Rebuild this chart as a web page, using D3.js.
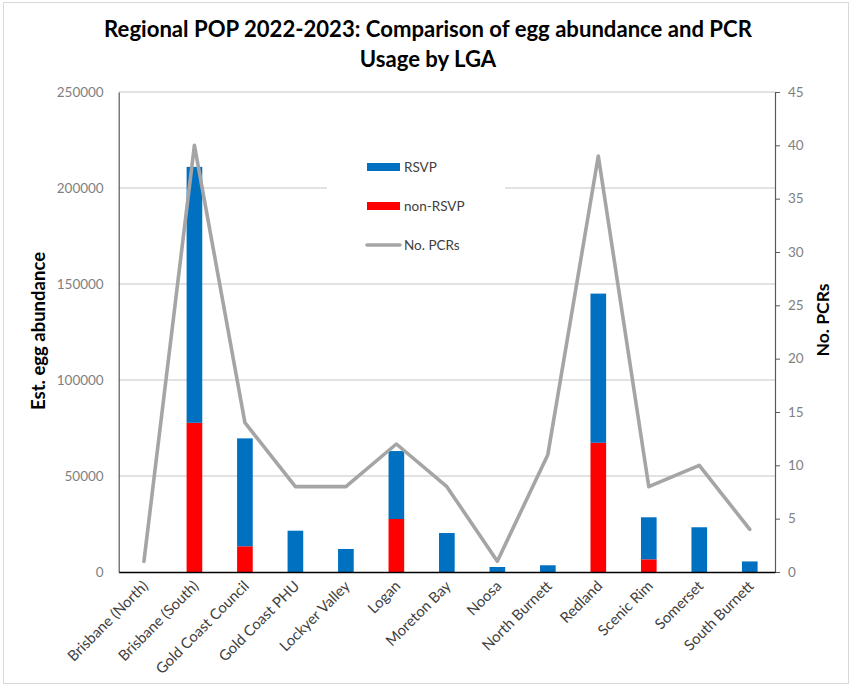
<!DOCTYPE html>
<html><head><meta charset="utf-8">
<script src="https://cdn.jsdelivr.net/npm/d3@7"></script>
<style>body{margin:0;background:#fff}svg{display:block}</style>
</head><body>
<script>
const categories = ["Brisbane (North)","Brisbane (South)","Gold Coast Council","Gold Coast PHU","Lockyer Valley","Logan","Moreton Bay","Noosa","North Burnett","Redland","Scenic Rim","Somerset","South Burnett"];
const nonRSVP = [0,77700,13400,0,0,27600,0,0,0,67300,6600,0,0];
const RSVP    = [0,133300,56200,21500,12000,35400,20300,2600,3500,77700,21900,23300,5500];
const pcrs    = [1,40,14,8,8,12,8,1,11,39,8,10,4];
const leftTicks = [0,50000,100000,150000,200000,250000];
const rightTicks = [0,5,10,15,20,25,30,35,40,45];

const W=852,H=686;
const font="Lato, 'Open Sans', sans-serif";
const svg=d3.select("body").append("svg").attr("width",W).attr("height",H);
svg.append("rect").attr("x",3.5).attr("y",2.5).attr("width",845).attr("height",681).attr("fill","#fff").attr("stroke","#d9d9d9");

const L=118.7,R=775,T=92,B=572;
const x=d3.scaleBand().domain(categories).range([L,R]);
const y=d3.scaleLinear().domain([0,250000]).range([B,T]);
const y2=d3.scaleLinear().domain([0,45]).range([B,T]);

// gridlines
svg.append("g").selectAll("line").data(leftTicks.slice(1)).join("line")
  .attr("x1",L).attr("x2",R).attr("y1",d=>y(d)).attr("y2",d=>y(d))
  .attr("stroke","#d9d9d9").attr("stroke-width",1.3);

// legend background (covers gridline)
svg.append("rect").attr("x",327).attr("y",150).attr("width",178).attr("height",110).attr("fill","#fff");

// stacked bars
const stackData=categories.map((c,i)=>({cat:c,nonRSVP:nonRSVP[i],RSVP:RSVP[i]}));
const series=d3.stack().keys(["nonRSVP","RSVP"])(stackData);
const colors={nonRSVP:"#ff0000",RSVP:"#0070c0"};
const bw=x.bandwidth()*0.31;
svg.append("g").selectAll("g").data(series).join("g").attr("fill",s=>colors[s.key])
  .selectAll("rect").data(s=>s).join("rect")
  .attr("x",d=>x(d.data.cat)+x.bandwidth()/2-bw/2).attr("width",bw)
  .attr("y",d=>y(d[1])).attr("height",d=>y(d[0])-y(d[1]));

// line
const line=d3.line().x((d,i)=>x(categories[i])+x.bandwidth()/2).y(d=>y2(d));
svg.append("path").datum(pcrs).attr("d",line).attr("fill","none")
  .attr("stroke","#a5a5a5").attr("stroke-width",3.6).attr("stroke-linejoin","round").attr("stroke-linecap","round");

// axes
const gl=svg.append("g").attr("transform",`translate(${L},0)`)
  .call(d3.axisLeft(y).tickValues(leftTicks).tickSize(0).tickPadding(15).tickFormat(d3.format("d")));
gl.select(".domain").attr("stroke","#595959").attr("stroke-width",1.2);
gl.selectAll("text").attr("font-family",font).attr("font-size",13.5).attr("fill","#7f7f7f");

const gr=svg.append("g").attr("transform",`translate(${R},0)`)
  .call(d3.axisRight(y2).tickValues(rightTicks).tickSizeInner(5).tickSizeOuter(0).tickPadding(8));
gr.select(".domain").attr("stroke","#595959").attr("stroke-width",1.2);
gr.selectAll(".tick line").attr("stroke","#595959");
gr.selectAll("text").attr("font-family",font).attr("font-size",13.5).attr("fill","#7f7f7f");

const gb=svg.append("g").attr("transform",`translate(0,${B})`)
  .call(d3.axisBottom(x).tickSize(0).tickFormat(""));
gb.select(".domain").attr("stroke","#000").attr("stroke-width",1.5);
svg.append("g").selectAll("text").data(categories).join("text")
  .attr("transform",d=>`translate(${x(d)+x.bandwidth()/2+5},${B+15}) rotate(-45)`)
  .attr("text-anchor","end").attr("font-family",font).attr("font-size",14.8).attr("fill","#404040")
  .text(d=>d);

// axis titles
svg.append("text").attr("transform","translate(45,331) rotate(-90)").attr("text-anchor","middle")
  .attr("font-family",font).attr("font-weight","bold").attr("font-size",18.5).attr("fill","#000").text("Est. egg abundance");
svg.append("text").attr("transform","translate(829,320) rotate(-90)").attr("text-anchor","middle")
  .attr("font-family",font).attr("font-weight","bold").attr("font-size",17.5).attr("fill","#000").text("No. PCRs");

// title
const t1=svg.append("text").attr("x",428).attr("y",37).attr("text-anchor","middle")
  .attr("font-family",font).attr("font-weight","bold").attr("font-size",19).attr("fill","#000")
  .text("Regional POP 2022-2023: Comparison of egg abundance and PCR");
const t2=svg.append("text").attr("x",428).attr("y",67).attr("text-anchor","middle")
  .attr("font-family",font).attr("font-weight","bold").attr("font-size",19).attr("fill","#000")
  .text("Usage by LGA");
const len=t1.node().getComputedTextLength();
const fs=19*648/len;
t1.attr("font-size",fs); t2.attr("font-size",fs);

// legend
const leg=[{k:"RSVP",c:"#0070c0",t:"rect",y:167},{k:"non-RSVP",c:"#ff0000",t:"rect",y:206},{k:"No. PCRs",c:"#a5a5a5",t:"line",y:245}];
const lg=svg.append("g");
leg.forEach(e=>{
  if(e.t==="rect") lg.append("rect").attr("x",367).attr("y",e.y-4).attr("width",33).attr("height",8).attr("fill",e.c);
  else lg.append("line").attr("x1",367).attr("x2",400).attr("y1",e.y).attr("y2",e.y).attr("stroke",e.c).attr("stroke-width",3.6).attr("stroke-linecap","round");
  lg.append("text").attr("x",404).attr("y",e.y).attr("dy","0.35em").attr("font-family",font).attr("font-size",13.5).attr("fill","#404040").text(e.k);
});
</script>
</body></html>
